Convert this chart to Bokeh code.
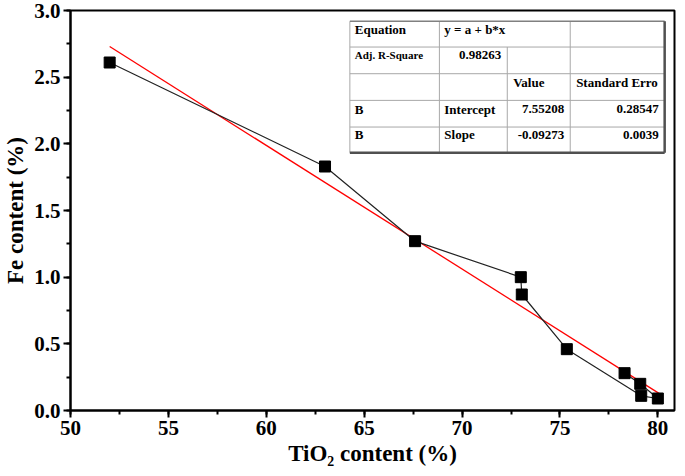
from bokeh.plotting import figure
from bokeh.models import SingleIntervalTicker, Range1d, PrintfTickFormatter
from bokeh.core.properties import value
from bokeh.embed import file_html
from bokeh.resources import INLINE

# ---- data ----
tio2 = [52.0, 63.0, 67.6, 73.0, 73.05, 75.35, 79.15, 80.0, 79.1, 78.3]
fe = [2.61, 1.83, 1.27, 1.00, 0.87, 0.46, 0.11, 0.09, 0.20, 0.28]
fit_intercept = 7.55208
fit_slope = -0.09273
fit_x = [52.0, 80.2]
fit_y = [fit_intercept + fit_slope * v for v in fit_x]

table_texts = ["Equation", "y = a + b*x", "Adj. R-Square", "0.98263", "Value",
               "Standard Erro", "B", "Intercept", "7.55208", "0.28547",
               "B", "Slope", "-0.09273", "0.0039"]

# ---- layout (reference pixel positions of the table, mapped to data) ----
XR = (50, 80.85)
YR = (0, 3.0)
def dx(px):
    return XR[0] + (px - 68) / (682 - 68) * (XR[1] - XR[0])
def dy(py):
    return YR[1] - (py - 8) / (413 - 8) * (YR[1] - YR[0])

FONT = "Liberation Serif"

p = figure(width=677, height=468, output_backend="svg", toolbar_location=None,
           x_range=Range1d(*XR), y_range=Range1d(*YR),
           min_border_top=10, min_border_right=3, min_border_left=0, min_border_bottom=0)
p.grid.visible = False
p.outline_line_color = "black"
p.outline_line_width = 2
p.background_fill_color = "white"
p.border_fill_color = "white"

p.xaxis.ticker = SingleIntervalTicker(interval=5, num_minor_ticks=2)
p.yaxis.ticker = SingleIntervalTicker(interval=0.5, num_minor_ticks=2)
p.yaxis.formatter = PrintfTickFormatter(format="%.1f")
for ax in (p.xaxis, p.yaxis):
    ax.axis_line_width = 2
    ax.major_tick_line_width = 2
    ax.minor_tick_line_width = 2
    ax.major_tick_out = 7
    ax.major_tick_in = 0
    ax.minor_tick_out = 4
    ax.minor_tick_in = 0
    ax.major_label_text_font = FONT
    ax.major_label_text_font_style = "bold"
    ax.major_label_text_font_size = "21px"
    ax.major_label_text_color = "black"
    ax.axis_label_text_font = FONT
    ax.axis_label_text_font_style = "bold"
    ax.axis_label_text_font_size = "23px"
    ax.axis_label_text_color = "black"
    ax.major_label_standoff = 3
    ax.axis_label_standoff = 3
p.xaxis.axis_label = "TiO\u2082 content (%)"
p.yaxis.axis_label = "Fe content (%)"

# fit line
p.line(fit_x, fit_y, line_color="red", line_width=1.3)
# data line + markers
p.line(tio2, fe, line_color="#222222", line_width=1.2)
p.scatter(tio2, fe, marker="square", size=11, fill_color="black", line_color="black")

# ---- table ----
L, C1, C2, C3, R = 352, 443, 512, 576, 672
rows = [19, 45, 72, 99, 126, 152]
p.quad(left=[dx(L)], right=[dx(R)], top=[dy(rows[0])], bottom=[dy(rows[-1])],
       fill_color="white", line_color=None)
p.segment(x0=[dx(L)] * 4, x1=[dx(R)] * 4, y0=[dy(r) for r in rows[1:5]],
          y1=[dy(r) for r in rows[1:5]], line_color="#a8a8a8", line_width=1)
p.segment(x0=[dx(L), dx(C1), dx(C2), dx(C3)], x1=[dx(L), dx(C1), dx(C2), dx(C3)],
          y0=[dy(rows[0]), dy(rows[0]), dy(rows[1]), dy(rows[0])],
          y1=[dy(rows[-1])] * 4, line_color="#a8a8a8", line_width=1)
p.segment(x0=[dx(L)], x1=[dx(R)], y0=[dy(rows[0])], y1=[dy(rows[0])],
          line_color="#808080", line_width=1.5)
p.segment(x0=[dx(L), dx(R)], x1=[dx(R), dx(R)], y0=[dy(rows[-1]), dy(rows[0])],
          y1=[dy(rows[-1]), dy(rows[-1])], line_color="#505050", line_width=2.5)

tx_px = [357, 448, 357, 506, 518, 582, 357, 448, 570, 666, 357, 448, 570, 666]
ty_px = [27, 27, 53, 53, 81, 81, 108, 108, 108, 108, 134, 134, 134, 134]
t_align = ["left", "left", "left", "right", "left", "left", "left", "left",
           "right", "right", "left", "left", "right", "right"]
t_size = ["13px", "13px", "11px", "13px", "13px", "13px", "13px", "13px",
          "13px", "13px", "13px", "13px", "13px", "13px"]
p.text(x=[dx(v) for v in tx_px], y=[dy(v) for v in ty_px], text=table_texts,
       text_align=t_align, text_baseline="middle", text_font=value(FONT),
       text_font_style="bold", text_font_size=t_size, text_color="black")

open("out.html", "w").write(file_html(p, INLINE))
